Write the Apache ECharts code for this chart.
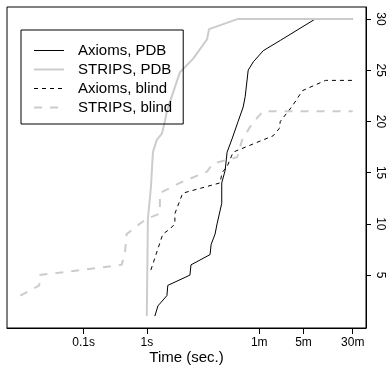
<!DOCTYPE html>
<html>
<head>
<meta charset="utf-8">
<script src="https://cdn.jsdelivr.net/npm/echarts@6/dist/echarts.min.js"></script>
<style>
  html, body { margin: 0; padding: 0; background: #fff; }
  #chart { width: 387px; height: 366px; }
</style>
</head>
<body>
<div id="chart"></div>
<script>
// time (seconds) vs. number of solved tasks
var axiomsPdbTime   = [1.34, 1.50, 2.08, 2.15, 4.81, 4.99, 10.0, 10.4, 12.0, 12.9, 15.3, 15.3, 17.3, 18.6, 22.3, 27.8, 33.4, 35.9, 40.1, 48.2, 69.4, 129, 464, 1800];
var axiomsPdbSolved = [1, 2, 3, 4, 5, 6, 7, 8, 9, 10, 12, 14, 15.2, 17, 18.3, 20, 21.4, 22.4, 25, 25.8, 26.9, 27.9, 30, 30];

var stripsPdbTime   = [1.0, 1.04, 1.16, 1.25, 1.44, 1.73, 1.93, 2.08, 3.34, 5.37, 8.96, 9.64, 27.8, 1800];
var stripsPdbSolved = [1, 10.5, 13.5, 17, 18.2, 18.8, 20, 21, 24.8, 26.1, 28, 29, 30, 30];

var axiomsBlindTime   = [1.16, 1.79, 2.32, 2.78, 2.78, 3.59, 3.72, 14.4, 15.5, 18.6, 23.2, 100, 124, 129, 200, 289, 669, 1800];
var axiomsBlindSolved = [5.5, 9, 9.5, 10, 11, 12.8, 13, 14, 15, 15.6, 17, 18.6, 19.3, 20, 21.5, 23, 24, 24];

var stripsBlindTime   = [0.01, 0.02, 0.02, 0.40, 0.45, 0.48, 0.77, 1.0, 1.61, 1.61, 3.34, 8.96, 11.2, 26.8, 32.2, 46.4, 69.4, 1800];
var stripsBlindSolved = [3, 4, 5, 6, 7.1, 9, 10, 10.5, 11, 13, 14, 15.1, 15.9, 16.5, 18.2, 19.8, 21, 21];

var tickSeconds = [0.1, 1, 60, 300, 1800];
var tickLabels  = ['0.1s', '1s', '1m', '5m', '30m'];
var yTicks      = [5, 10, 15, 20, 25, 30];

var FONT = '"Liberation Sans", Arial, Helvetica, sans-serif';
var LIGHT = '#cccccc';

function pairs(times, solved) {
    return times.map(function (t, i) { return [Math.log10(t), solved[i]]; });
}

// R-style 4% padding of the data range
var xLo = Math.log10(0.01), xHi = Math.log10(1800);
var xPad = (xHi - xLo) * 0.04;
var yLo = 1, yHi = 30;
var yPad = (yHi - yLo) * 0.04;

var logTicks = tickSeconds.map(function (t) { return Math.log10(t); });

var dom = document.getElementById('chart');
var myChart = echarts.init(dom, null, { renderer: 'canvas' });

function mkSeries(name, data, color, width, type) {
    return {
        name: name,
        type: 'line',
        data: data,
        symbol: 'none',
        showSymbol: false,
        silent: true,
        animation: false,
        lineStyle: { color: color, width: width, type: type },
        itemStyle: { color: color }
    };
}

var option = {
    backgroundColor: '#fff',
    animation: false,
    grid: {
        left: 7, right: 21, top: 7, bottom: 38,
        containLabel: false,
        outerBoundsMode: 'none',
        show: true,
        borderColor: '#000',
        borderWidth: 1
    },
    legend: {
        orient: 'vertical',
        left: 21,
        top: 30,
        padding: [13, 11, 9, 12],
        itemWidth: 30,
        itemHeight: 14,
        itemGap: 4,
        borderColor: '#000',
        borderWidth: 1,
        borderRadius: 0,
        selectedMode: false,
        itemStyle: { opacity: 0 },
        lineStyle: { width: 'inherit' },
        textStyle: { fontFamily: FONT, fontSize: 15, color: '#000', padding: [0, 0, 0, 9] },
        data: ['Axioms, PDB', 'STRIPS, PDB', 'Axioms, blind', 'STRIPS, blind']
    },
    xAxis: {
        type: 'value',
        min: xLo - xPad,
        max: xHi + xPad,
        name: 'Time (sec.)',
        nameLocation: 'middle',
        nameGap: 22,
        nameMoveOverlap: false,
        nameTextStyle: { fontFamily: FONT, fontSize: 15, color: '#000' },
        axisLine: { show: true, onZero: false, lineStyle: { color: '#000', width: 1 } },
        axisTick: { show: true, length: 6, customValues: logTicks, lineStyle: { color: '#000' } },
        axisLabel: {
            customValues: logTicks,
            margin: 9,
            fontFamily: FONT, fontSize: 12, color: '#000',
            formatter: function (v) {
                for (var i = 0; i < logTicks.length; i++) {
                    if (Math.abs(logTicks[i] - v) < 1e-6) return tickLabels[i];
                }
                return '';
            }
        },
        splitLine: { show: false }
    },
    yAxis: {
        type: 'value',
        position: 'right',
        min: yLo - yPad,
        max: yHi + yPad,
        axisLine: { show: true, onZero: false, lineStyle: { color: '#000', width: 1 } },
        axisTick: { show: true, length: 5, customValues: yTicks, lineStyle: { color: '#000' } },
        axisLabel: {
            customValues: yTicks,
            rotate: -90,
            margin: 8,
            fontFamily: FONT, fontSize: 12, color: '#000'
        },
        splitLine: { show: false }
    },
    series: [
        mkSeries('Axioms, PDB', pairs(axiomsPdbTime, axiomsPdbSolved), '#000', 1, 'solid'),
        mkSeries('STRIPS, PDB', pairs(stripsPdbTime, stripsPdbSolved), LIGHT, 2, 'solid'),
        mkSeries('Axioms, blind', pairs(axiomsBlindTime, axiomsBlindSolved), '#000', 1, [4, 4]),
        mkSeries('STRIPS, blind', pairs(stripsBlindTime, stripsBlindSolved), LIGHT, 2, [8, 8])
    ]
};

myChart.setOption(option);
window.addEventListener('resize', myChart.resize);
</script>
</body>
</html>
